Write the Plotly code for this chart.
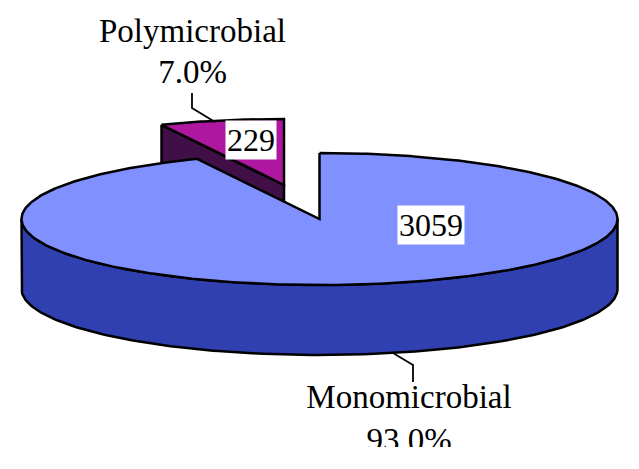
import numpy as np
import plotly.graph_objects as go

# Data
categories = ["Monomicrobial", "Polymicrobial"]
counts = [3059, 229]

# Style / layout constants (pixel-like axis units)
CX, CY, RX, RY, DEPTH = 319.5, 219.0, 298.0, 66.0, 70.0
EXPLODE_DX, EXPLODE_DY = -35.5, -34.0
SWEEP_CORRECTION = 0.968  # perspective foreshortening of the small wedge
TOP_MAIN, SIDE_MAIN = "#8090FF", "#3040B0"
TOP_POLY, SIDE_POLY = "#AE18A0", "#400F48"
INK = "#000000"
SERIF = "Liberation Serif"
LW = 2.5

total = sum(counts)
poly_sweep = 2 * np.pi * counts[1] / total * SWEEP_CORRECTION


def arc(t0, t1, cx=CX, cy=CY, n=160):
    t = np.linspace(t0, t1, n)
    return cx + RX * np.sin(t), cy - RY * np.cos(t)


fig = go.Figure()


def poly(x, y, fill, width=LW):
    fig.add_trace(go.Scatter(
        x=list(x), y=list(y), mode="lines", fill="toself", fillcolor=fill,
        line=dict(color=INK, width=width), hoverinfo="skip", showlegend=False,
    ))


# Exploded wedge (drawn first, main pie occludes its walls)
pcx, pcy = CX + EXPLODE_DX, CY + EXPLODE_DY
ax, ay = arc(-poly_sweep, 0, pcx, pcy, 40)
poly([ax[0], pcx, pcx, ax[0], ax[0]],
     [ay[0], pcy, pcy + DEPTH, ay[0] + DEPTH, ay[0]], SIDE_POLY)
poly(np.r_[ax, pcx, ax[0]], np.r_[ay, pcy, ay[0]], TOP_POLY)

# Main pie: visible front wall
fx, fy = arc(np.pi / 2, 3 * np.pi / 2)
poly(np.r_[fx, fx[::-1], fx[0]], np.r_[fy, fy[::-1] + DEPTH, fy[0]], SIDE_MAIN)

# Main pie: top surface
mx, my = arc(0, 2 * np.pi - poly_sweep, n=400)
poly(np.r_[mx, CX, mx[0]], np.r_[my, CY, my[0]], TOP_MAIN)

# Leader lines
leader_x = [[192, 192, 215], [393, 413, 413]]
leader_y = [[93, 108, 122], [353, 365, 382]]
for lx, ly in zip(leader_x, leader_y):
    fig.add_trace(go.Scatter(x=lx, y=ly, mode="lines", line=dict(color=INK, width=1.8),
                             hoverinfo="skip", showlegend=False))

# Category labels (trace text so the plot-area edge trims the lowest line, as in the source)
label_x = [409, 192.5]
label_y = [400, 34]
pct_y = [442.5, 75]
fig.add_trace(go.Scatter(
    x=label_x + label_x, y=label_y + pct_y, mode="text",
    text=categories + [f"{c / total * 100:.1f}%" for c in counts],
    textposition="middle center",
    textfont=dict(family=SERIF, size=33, color=INK),
    cliponaxis=True, hoverinfo="skip", showlegend=False,
))

# Count labels with white boxes
value_x = [430.5, 250.5]
value_y = [224.5, 139.5]
for vx, vy, c in zip(value_x, value_y, counts):
    fig.add_annotation(x=vx, y=vy, text=str(c), showarrow=False, bgcolor="white",
                       borderpad=1, font=dict(family=SERIF, size=32, color=INK))

fig.update_layout(
    width=639, height=469, autosize=False,
    margin=dict(l=0, r=0, t=0, b=22),
    paper_bgcolor="white", plot_bgcolor="white",
    xaxis=dict(range=[0, 639], visible=False, fixedrange=True),
    yaxis=dict(range=[447, 0], visible=False, fixedrange=True),
    showlegend=False,
)
fig.write_html("out.html", config={"displayModeBar": False},
               post_script="document.body.style.margin='0';document.body.style.overflow='hidden';")
